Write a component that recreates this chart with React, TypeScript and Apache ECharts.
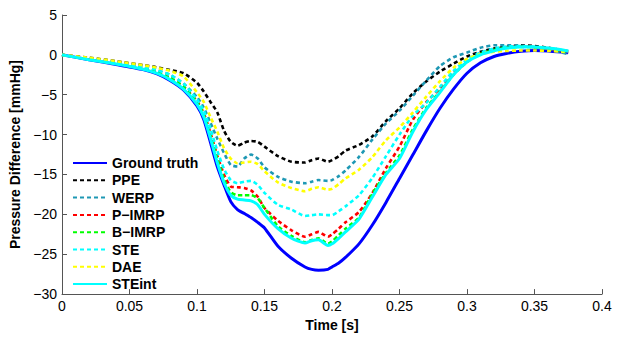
import React, { useEffect, useRef } from "react";
import * as echarts from "echarts";

const timeS = [0, 0.02, 0.04, 0.06, 0.07, 0.08, 0.09, 0.1, 0.105, 0.11, 0.115, 0.12, 0.125, 0.13, 0.135, 0.14, 0.145, 0.15, 0.16, 0.17, 0.18, 0.185, 0.19, 0.197, 0.2, 0.205, 0.21, 0.22, 0.23, 0.24, 0.25, 0.26, 0.27, 0.28, 0.29, 0.3, 0.31, 0.32, 0.33, 0.34, 0.35, 0.36, 0.37, 0.375];

const groundTruth = [0, -0.6, -1.2, -1.85, -2.35, -3.2, -4.4, -6.4, -8.1, -11, -14, -16.3, -18.4, -19.4, -19.9, -20.4, -21, -21.7, -24, -25.5, -26.6, -26.9, -27, -26.9, -26.6, -26.1, -25.4, -23.7, -21.3, -18.5, -15.5, -12.5, -9.5, -6.7, -4.3, -2.3, -1.0, -0.2, 0.2, 0.45, 0.55, 0.5, 0.35, 0.25];
const ppe = [0, -0.35, -0.8, -1.3, -1.55, -1.9, -2.3, -3.5, -4.6, -5.9, -7.2, -9.5, -10.9, -11.4, -11.0, -10.8, -10.9, -11.5, -12.7, -13.4, -13.5, -13.2, -13.0, -13.4, -13.2, -12.7, -12.0, -11.3, -10.2, -8.3, -6.7, -4.8, -3.3, -2.1, -1.1, -0.2, 0.4, 0.8, 1.05, 1.2, 1.1, 0.9, 0.6, 0.45];
const werp = [0, -0.5, -1.0, -1.5, -1.9, -2.5, -3.6, -5.3, -6.6, -8.5, -10.5, -12.3, -13.8, -14.0, -13.0, -12.5, -13.0, -14.1, -15.3, -15.9, -16.1, -15.9, -15.7, -15.8, -15.7, -15.2, -14.5, -12.8, -10.6, -8.6, -7.0, -5.1, -3.2, -1.4, -0.3, 0.3, 0.9, 1.2, 1.2, 1.15, 1.0, 0.75, 0.3, 0.1];
const pImrp = [0, -0.55, -1.1, -1.7, -2.2, -2.9, -4.0, -5.8, -7.3, -9.8, -12.6, -15.0, -16.5, -16.6, -16.7, -17.0, -17.8, -19.2, -20.8, -22.0, -22.8, -22.5, -22.2, -22.8, -22.5, -21.8, -21.0, -19.7, -17.3, -14.2, -11.5, -8.1, -5.9, -4.2, -2.3, -0.8, 0.2, 0.7, 1.0, 1.05, 0.95, 0.8, 0.55, 0.45];
const bImrp = [0, -0.55, -1.1, -1.7, -2.2, -2.9, -4.0, -5.9, -7.5, -10.1, -13.0, -15.6, -17.2, -17.6, -17.6, -17.6, -18.0, -19.2, -21.5, -22.7, -23.5, -23.2, -23.0, -23.7, -23.4, -22.6, -21.8, -20.4, -17.4, -14.8, -12.6, -9.3, -6.6, -4.6, -2.5, -0.9, 0.1, 0.6, 0.9, 1.0, 0.95, 0.8, 0.55, 0.4];
const ste = [0, -0.5, -1.0, -1.5, -1.9, -2.5, -3.6, -5.6, -7.0, -9.3, -12.0, -14.3, -15.7, -16.1, -15.9, -15.8, -16.3, -17.3, -18.8, -19.4, -20.2, -20.1, -20.0, -20.1, -20.1, -19.6, -19.0, -17.6, -15.4, -12.7, -10.0, -7.6, -6.0, -4.0, -2.0, -0.6, 0.3, 0.8, 1.05, 1.1, 1.0, 0.85, 0.6, 0.45];
const dae = [0, -0.35, -0.8, -1.3, -1.6, -2.0, -2.7, -4.7, -5.9, -7.8, -9.6, -11.7, -13.0, -13.6, -13.5, -13.4, -13.7, -14.6, -16.0, -16.7, -17.1, -16.8, -16.6, -16.9, -16.8, -16.2, -15.5, -14.4, -12.8, -10.7, -9.1, -7.2, -5.2, -3.3, -1.6, -0.5, 0.1, 0.4, 0.5, 0.55, 0.55, 0.5, 0.4, 0.3];
const steInt = [0, -0.6, -1.15, -1.8, -2.3, -3.1, -4.3, -6.2, -7.8, -10.5, -13.5, -16.0, -17.6, -18.1, -18.2, -18.3, -18.8, -20.0, -21.8, -23.0, -23.6, -23.3, -23.2, -23.9, -23.7, -23.0, -22.2, -20.6, -17.8, -15.0, -13.0, -9.6, -6.8, -4.7, -2.5, -0.9, 0.0, 0.5, 0.85, 1.0, 1.0, 0.85, 0.65, 0.5];

const seriesNames = ["Ground truth", "PPE", "WERP", "P\u2212IMRP", "B\u2212IMRP", "STE", "DAE", "STEint"];
const seriesValues = [groundTruth, ppe, werp, pImrp, bImrp, ste, dae, steInt];
const seriesColors = ["#0000ff", "#000000", "#1e98b4", "#ff0000", "#00ff00", "#00ffff", "#ffff00", "#00ffff"];
const seriesSolid = [true, false, false, false, false, false, false, true];

const FONT = "'Liberation Sans', Arial, Helvetica, sans-serif";

export default function App() {
  const ref = useRef<HTMLDivElement>(null);
  useEffect(() => {
    if (!ref.current) return;
    const chart = echarts.init(ref.current, null, { renderer: "svg" });
    const series = seriesNames.map((name, k) => ({
      name,
      type: "line",
      data: timeS.map((t, i) => [t, seriesValues[k][i]]),
      showSymbol: false,
      symbol: "none",
      smooth: 0.2,
      lineStyle: seriesSolid[k]
        ? { color: seriesColors[k], width: 3, type: "solid" }
        : { color: seriesColors[k], width: 2.6, type: [4, 3], cap: "butt" },
      itemStyle: { color: seriesColors[k] },
      z: 2 + k,
    }));
    chart.setOption({
      animation: false,
      backgroundColor: "#ffffff",
      grid: { left: 62, right: 16, top: 15, bottom: 40, containLabel: false },
      legend: {
        orient: "vertical",
        left: 72,
        top: 156,
        padding: 0,
        itemWidth: 34,
        itemHeight: 14,
        itemGap: 3.3,
        itemStyle: { opacity: 0 },
        textStyle: { fontFamily: FONT, fontSize: 14, fontWeight: "bold", color: "#000" },
        data: seriesNames,
      },
      xAxis: {
        type: "value",
        min: 0,
        max: 0.4,
        interval: 0.05,
        name: "Time [s]",
        nameLocation: "middle",
        nameGap: 21,
        nameTextStyle: { fontFamily: FONT, fontSize: 14, fontWeight: "bold", color: "#000" },
        axisLine: { show: true, onZero: false, lineStyle: { color: "#555", width: 1 } },
        axisTick: { show: true, inside: true, length: 5, lineStyle: { color: "#555" } },
        axisLabel: {
          fontFamily: FONT,
          fontSize: 14,
          color: "#000",
          margin: 5,
          formatter: (v: number) => String(parseFloat(v.toFixed(2))),
        },
        splitLine: { show: false },
      },
      yAxis: {
        type: "value",
        min: -30,
        max: 5,
        interval: 5,
        name: "Pressure Difference [mmHg]",
        nameLocation: "middle",
        nameGap: 33,
        nameTextStyle: { fontFamily: FONT, fontSize: 14, fontWeight: "bold", color: "#000" },
        axisLine: { show: true, onZero: false, lineStyle: { color: "#555", width: 1 } },
        axisTick: { show: true, inside: true, length: 5, lineStyle: { color: "#555" } },
        axisLabel: {
          fontFamily: FONT,
          fontSize: 14,
          color: "#000",
          margin: 5,
          formatter: (v: number) => String(v).replace("-", "\u2212"),
        },
        splitLine: { show: false },
      },
      series,
    });
    return () => chart.dispose();
  }, []);
  return (
    <div
      ref={ref}
      style={{ position: "absolute", left: 0, top: 0, width: 618, height: 337, background: "#fff" }}
    />
  );
}
